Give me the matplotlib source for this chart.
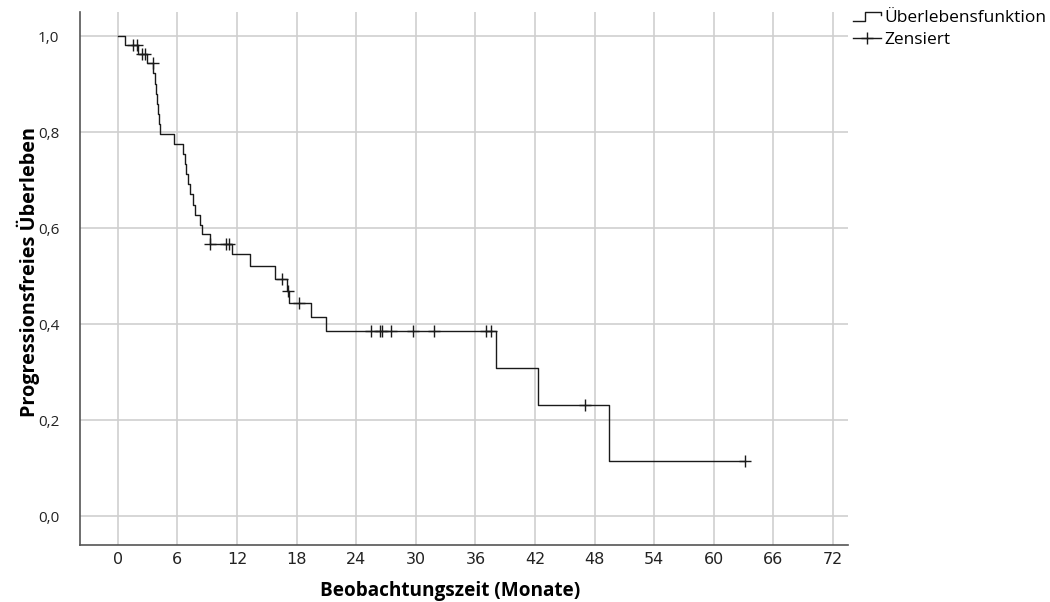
import numpy as np
import matplotlib
matplotlib.use("Agg")
import matplotlib.pyplot as plt
from matplotlib.lines import Line2D
from matplotlib.legend_handler import HandlerBase

# Kaplan-Meier curve (months, survival)
step_times = [0, 0.7, 2.05, 2.9, 3.55, 3.7, 3.85, 3.95, 4.05, 4.15, 4.3,
              5.67, 6.58, 6.75, 6.9, 7.1, 7.3, 7.6, 7.8, 8.25, 8.5, 9.25,
              11.45, 13.36, 15.8, 17.0, 17.25, 19.5, 21.0, 38.07, 42.27, 49.4]
step_surv = [1.0, 0.981, 0.962, 0.943, 0.922, 0.901, 0.880, 0.859, 0.838, 0.817, 0.796,
             0.775, 0.754, 0.733, 0.712, 0.691, 0.670, 0.649, 0.628, 0.607, 0.587, 0.566,
             0.545, 0.520, 0.495, 0.470, 0.444, 0.414, 0.385, 0.308, 0.231, 0.115]
end_time = 63.1

censor_times = [1.5, 1.9, 2.45, 2.75, 3.5, 9.3, 10.9, 11.15, 16.55, 17.1, 18.2,
                25.45, 26.4, 26.6, 27.55, 29.75, 31.85, 37.1, 37.6, 47.06, 63.1]

x_ticks = list(range(0, 73, 6))
y_ticks = [0.0, 0.2, 0.4, 0.6, 0.8, 1.0]
y_ticklabels = ["0,0", "0,2", "0,4", "0,6", "0,8", "1,0"]

line_col = "#1a1a1a"


class StepHandler(HandlerBase):
    # little step icon like SPSS uses for the survival function
    def create_artists(self, legend, orig_handle, xdescent, ydescent,
                       width, height, fontsize, trans):
        x = np.array([0, 0.45, 0.45, 1.0, 1.0]) * width - xdescent
        y = np.array([0.1, 0.1, 0.85, 0.85, 0.55]) * height - ydescent
        ln = Line2D(x, y, color=line_col, lw=1.0)
        ln.set_transform(trans)
        return [ln]


fig = plt.figure(figsize=(10.5, 6.02), dpi=100)
ax = fig.add_axes([80/1050, 1 - 545/602, (848 - 80)/1050, (545 - 12)/602])

t = np.array(step_times + [end_time])
s = np.array(step_surv + [step_surv[-1]])
ax.step(t, s, where="post", color=line_col, lw=1.0, zorder=3)

idx = np.searchsorted(step_times, censor_times, side="right") - 1
cens_y = np.array(step_surv)[idx]
ax.plot(censor_times, cens_y, ls="none", marker="+", ms=8.5, mew=1.0,
        color=line_col, zorder=4)

ax.set_xlim(-3.8, 73.5)
ax.set_ylim(-0.06, 1.05)
ax.set_xticks(x_ticks)
ax.set_yticks(y_ticks)
ax.set_yticklabels(y_ticklabels)
ax.grid(True, color="#cfcfcf", lw=1.2)
ax.set_axisbelow(True)
ax.tick_params(length=0, colors="#222222")
ax.tick_params(axis="y", pad=15, labelsize=11)
ax.tick_params(axis="x", pad=5, labelsize=11.5)
for lab in ax.get_xticklabels():
    lab.set_family("Liberation Sans Narrow")
for lab in ax.get_yticklabels():
    lab.set_family("Open Sans")

for side in ["top", "right"]:
    ax.spines[side].set_visible(False)
for side in ["left", "bottom"]:
    ax.spines[side].set_color("#555555")
    ax.spines[side].set_linewidth(1.2)

ax.set_xlabel("Beobachtungszeit (Monate)", family="Open Sans", weight="bold",
              fontsize=13.7)
ax.set_ylabel("Progressionsfreies Überleben", family="Open Sans", weight="bold",
              fontsize=14.3)
ax.xaxis.set_label_coords((450 - 80) / 768, (545 - 591) / 533)
ax.xaxis.label.set_va("center")
ax.yaxis.set_label_coords((28 - 80) / 768, (545 - 272) / 533)
ax.yaxis.label.set_va("center")

h_surv = Line2D([], [], color=line_col)
h_cens = Line2D([], [], color=line_col, marker="+", ms=9, lw=1.0)
fig.legend([h_surv, h_cens], ["Überlebensfunktion", "Zensiert"],
           handler_map={h_surv: StepHandler()},
           loc="upper left", bbox_to_anchor=(846/1050, 1 - 3/602),
           frameon=False, handlelength=1.6, handletextpad=0.2,
           labelspacing=0.35, borderaxespad=0,
           prop={"family": "Open Sans", "size": 12.5})

fig.savefig("out.png", dpi=100)
